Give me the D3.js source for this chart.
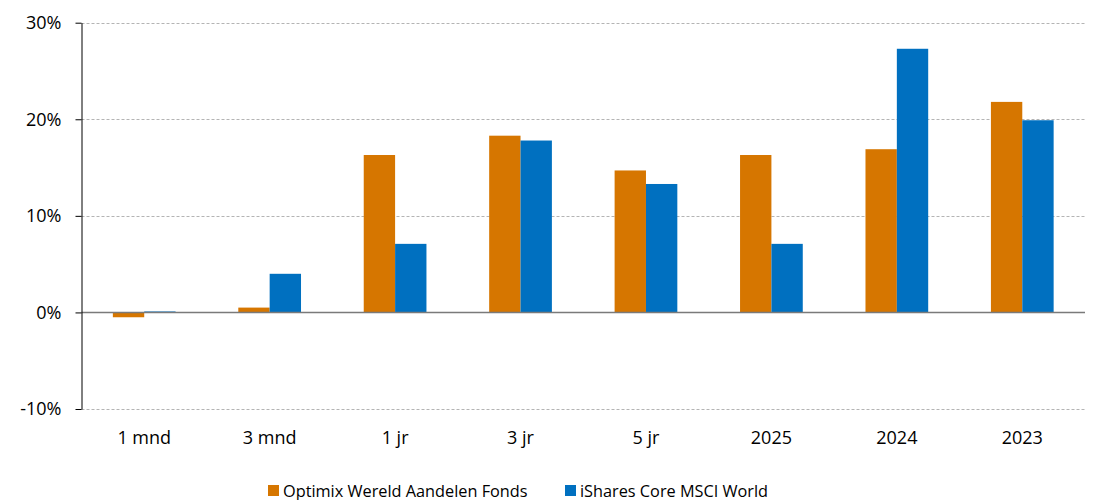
<!DOCTYPE html>
<meta charset="utf-8">
<body style="margin:0;background:#fff">
<script src="https://d3js.org/d3.v7.min.js"></script>
<script>

  let width = 1094,
    height = 500;

  // data
  let categories = ["1 mnd", "3 mnd", "1 jr", "3 jr", "5 jr", "2025", "2024", "2023"];
  let seriesNames = ["Optimix Wereld Aandelen Fonds", "iShares Core MSCI World"];
  let optimix = [-0.5, 0.5, 16.3, 18.3, 14.7, 16.3, 16.9, 21.8];
  let ishares = [0.1, 4.0, 7.1, 17.8, 13.3, 7.1, 27.3, 19.9];
  let yTicks = [-10, 0, 10, 20, 30];
  let colors = ["#d67600", "#0070c0"];

  let margin = {left: 81.5, right: 9, top: 22.7, bottom: 91};

  let svg = d3.select("body").append("svg")
    .attr("width", width)
    .attr("height", height)
    .style("font-family", "'Open Sans', sans-serif");

  let x = d3.scaleBand()
    .domain(categories)
    .range([margin.left, width - margin.right])
    .paddingInner(0.5)
    .paddingOuter(0.25);

  let x1 = d3.scaleBand()
    .domain([0, 1])
    .range([0, x.bandwidth()]);

  let y = d3.scaleLinear()
    .domain([-10, 30])
    .range([height - margin.bottom, margin.top]);

  // gridlines
  svg.append("g")
    .selectAll("line")
    .data(yTicks.filter(d => d !== 0))
    .enter().append("line")
    .attr("x1", margin.left)
    .attr("x2", width - margin.right)
    .attr("y1", d => Math.round(y(d)) + 0.5)
    .attr("y2", d => Math.round(y(d)) + 0.5)
    .attr("stroke", "#b4b4b4")
    .attr("stroke-dasharray", "3,2");

  // bars
  let rows = categories.map((c, i) => ({cat: c, vals: [optimix[i], ishares[i]]}));
  let groups = svg.append("g")
    .selectAll("g")
    .data(rows)
    .enter().append("g")
    .attr("transform", d => "translate(" + x(d.cat) + ",0)");

  groups.selectAll("rect")
    .data(d => d.vals.map((v, k) => ({k: k, v: v})))
    .enter().append("rect")
    .attr("x", d => x1(d.k))
    .attr("width", x1.bandwidth())
    .attr("y", d => y(Math.max(0, d.v)))
    .attr("height", d => Math.abs(y(d.v) - y(0)))
    .attr("fill", d => colors[d.k]);

  // zero line
  svg.append("line")
    .attr("x1", margin.left)
    .attr("x2", width - margin.right)
    .attr("y1", y(0))
    .attr("y2", y(0))
    .attr("stroke", "#7a7a7a")
    .attr("stroke-width", 1.5);

  // y axis
  let yAxis = svg.append("g")
    .attr("transform", "translate(" + margin.left + ",0)")
    .call(d3.axisLeft(y).tickValues(yTicks).tickFormat(d => d + "%").tickSize(6).tickSizeOuter(0));
  yAxis.select(".domain").attr("stroke", "#000");
  yAxis.selectAll(".tick line").attr("stroke", "#000");
  yAxis.selectAll(".tick text")
    .attr("x", -20)
    .attr("fill", "#000")
    .style("font-size", "18px")
    .style("font-family", "'Open Sans', sans-serif");

  // category labels
  svg.append("g")
    .selectAll("text")
    .data(categories)
    .enter().append("text")
    .attr("x", d => x(d) + x.bandwidth() / 2)
    .attr("y", 444)
    .attr("text-anchor", "middle")
    .style("font-size", "18px")
    .text(d => d);

  // legend
  let legendX = [268, 565];
  let legend = svg.append("g")
    .selectAll("g")
    .data(seriesNames)
    .enter().append("g")
    .attr("transform", (d, i) => "translate(" + legendX[i] + ",485)");
  legend.append("rect")
    .attr("width", 11)
    .attr("height", 11)
    .attr("fill", (d, i) => colors[i]);
  legend.append("text")
    .attr("x", 15)
    .attr("y", 11.5)
    .style("font-size", "16.3px")
    .text(d => d);

</script>
